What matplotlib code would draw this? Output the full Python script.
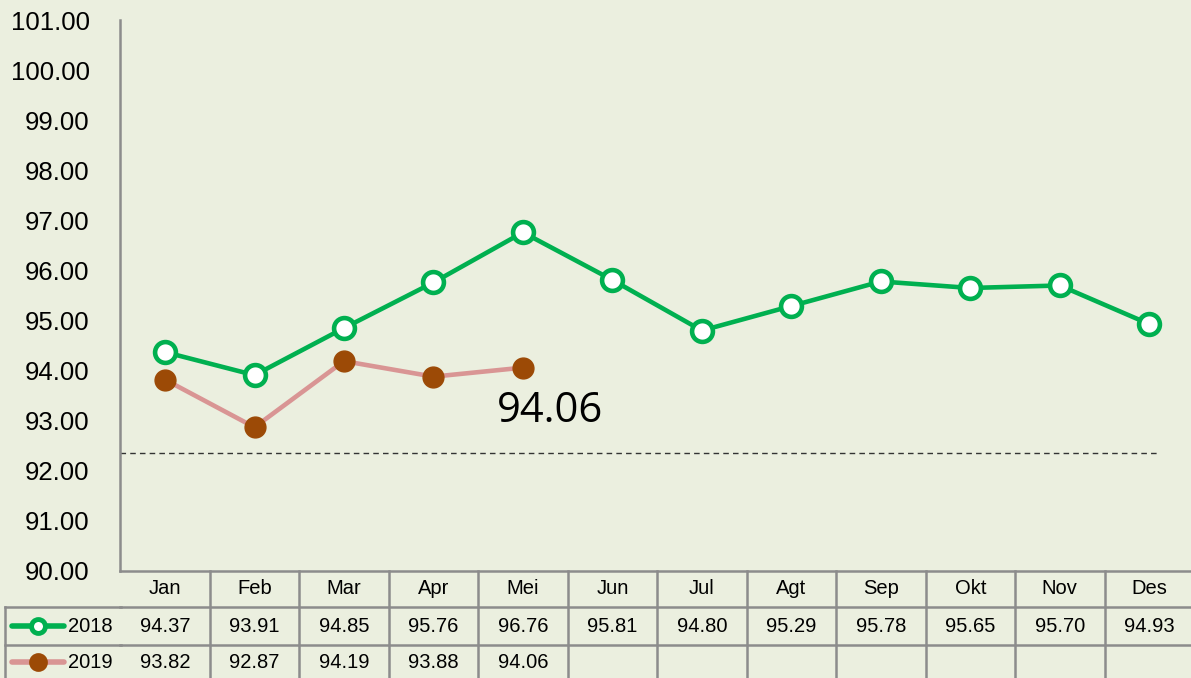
import matplotlib
matplotlib.use("Agg")
import matplotlib.pyplot as plt
import matplotlib.transforms as mtransforms
from matplotlib.lines import Line2D

bulan = ['Jan', 'Feb', 'Mar', 'Apr', 'Mei', 'Jun', 'Jul', 'Agt', 'Sep', 'Okt', 'Nov', 'Des']
ntp_2018 = [94.37, 93.91, 94.85, 95.76, 96.76, 95.81, 94.80, 95.29, 95.78, 95.65, 95.70, 94.93]
ntp_2019 = [93.82, 92.87, 94.19, 93.88, 94.06]
garis_batas = 92.35
yticks = [90, 91, 92, 93, 94, 95, 96, 97, 98, 99, 100, 101]

bg = '#EBEFDF'
hijau = '#00B050'
pink = '#D99594'
coklat = '#9C4A06'
abu = '#8C8C8C'
fnt = ['Liberation Sans Narrow', 'Liberation Sans', 'DejaVu Sans']

W, H = 1191, 678
fig = plt.figure(figsize=(W / 100, H / 100), dpi=100, facecolor=bg)
ax = fig.add_axes([120.3 / W, 1 - 571 / H, (1194 - 120.3) / W, (571 - 20) / H])
ax.set_facecolor(bg)

x = list(range(len(bulan)))
ax.plot(x, ntp_2018, color=hijau, lw=3.3, marker='o', ms=15, mfc='white',
        mec=hijau, mew=3.3, zorder=3, clip_on=False)
ax.plot(x[:len(ntp_2019)], ntp_2019, color=pink, lw=3.3, marker='o', ms=15,
        mfc=coklat, mec=coklat, zorder=4, clip_on=False)
ax.plot([-0.5, 11.1], [garis_batas, garis_batas], color='#333333', lw=1,
        ls=(0, (4, 3)), zorder=2)

# label nilai terakhir 2019
ax.text(len(ntp_2019) - 1 + 0.3, ntp_2019[-1] - 0.45, '%.2f' % ntp_2019[-1],
        ha='center', va='top', fontsize=30, family=['Open Sans', 'DejaVu Sans'])

ax.set_xlim(-0.5, 11.5)
ax.set_ylim(90, 101)
ax.set_yticks(yticks)
ax.set_yticklabels(['%.2f' % v for v in yticks], family=fnt, fontsize=18.5)
ax.tick_params(axis='y', length=0, pad=22)
ax.set_xticks([])
for s in ['top', 'right', 'bottom']:
    ax.spines[s].set_visible(False)
ax.spines['left'].set_color(abu)
ax.spines['left'].set_linewidth(1.8)

# tabel data di bawah grafik
tr = mtransforms.blended_transform_factory(ax.transData, fig.transFigure)
fy = lambda py: 1 - py / H
y_rows = [571, 607, 645, 678]
lk = dict(color=abu, lw=1.8, transform=tr, clip_on=False)
fig.add_artist(Line2D([-0.5, 11.5], [fy(571), fy(571)], **lk))
for yy in y_rows[1:3]:
    fig.add_artist(Line2D([-0.5, 11.5], [fy(yy), fy(yy)], **lk))
    fig.add_artist(Line2D([5 / W, 121 / W], [fy(yy), fy(yy)], color=abu, lw=1.8,
                          transform=fig.transFigure))
fig.add_artist(Line2D([5 / W, 5 / W], [fy(607), 0], color=abu, lw=1.8,
                      transform=fig.transFigure))
for i in range(1, 13):
    fig.add_artist(Line2D([i - 0.5, i - 0.5], [fy(571), 0], **lk))

ts = 14.5
for i, b in enumerate(bulan):
    fig.text(i, fy(589), b, transform=tr, ha='center', va='center', fontsize=ts, family=fnt)
    fig.text(i, fy(626), '%.2f' % ntp_2018[i], transform=tr, ha='center', va='center',
             fontsize=ts, family=fnt)
for i, v in enumerate(ntp_2019):
    fig.text(i, fy(662), '%.2f' % v, transform=tr, ha='center', va='center',
             fontsize=ts, family=fnt)

# kunci legenda di kolom kiri tabel
ft = fig.transFigure
for yy, lbl, lc, mf in [(626, '2018', hijau, 'white'), (662, '2019', pink, coklat)]:
    fig.add_artist(Line2D([12 / W, 64 / W], [fy(yy), fy(yy)], color=lc, lw=4,
                          solid_capstyle='round', transform=ft))
    fig.add_artist(Line2D([38 / W], [fy(yy)], marker='o', ms=10, mfc=mf,
                          mec=hijau if mf == 'white' else coklat, mew=3.5, transform=ft))
    fig.text(113 / W, fy(yy), lbl, ha='right', va='center', fontsize=ts, family=fnt)

fig.savefig('out.png', dpi=100, facecolor=bg)
